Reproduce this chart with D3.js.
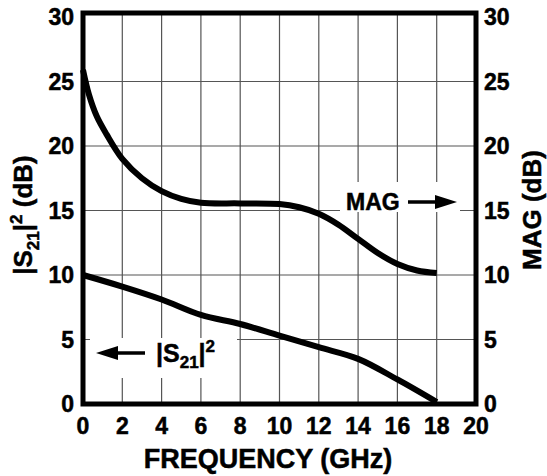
<!DOCTYPE html>
<html>
<head>
<meta charset="utf-8">
<script src="https://cdn.jsdelivr.net/npm/d3@7"></script>
<style>
  body { margin: 0; background: #fff; }
  text { font-family: "Liberation Sans", Arial, Helvetica, sans-serif; font-weight: bold; fill: #000; stroke: #000; stroke-width: 0.5px; }
</style>
</head>
<body>
<div id="chart"></div>
<script>
// data
var freqTicks = [0, 2, 4, 6, 8, 10, 12, 14, 16, 18, 20];
var dbTicks = [0, 5, 10, 15, 20, 25, 30];

var magFreq = [0, 0.3, 0.7, 1.2, 2, 3, 4, 5, 6, 8, 10, 11, 12, 13, 14, 15, 16, 17, 18];
var magDb   = [25.9, 24.0, 22.3, 20.9, 19.0, 17.5, 16.5, 15.9, 15.6, 15.55, 15.5, 15.25, 14.75, 13.9, 12.8, 11.7, 10.85, 10.35, 10.15];

var s21Freq = [0, 2, 4, 6, 8, 10, 12, 14, 16, 18];
var s21Db   = [10, 9.1, 8.1, 6.9, 6.2, 5.3, 4.4, 3.5, 1.9, 0.15];

var width = 547, height = 476;

var x = d3.scaleLinear().domain([0, 20]).range([83, 476]);
var y = d3.scaleLinear().domain([0, 30]).range([404, 17]);

var svg = d3.select('#chart').append('svg')
    .attr('width', width)
    .attr('height', height);

// grid
svg.append('g')
    .selectAll('line.v')
    .data(freqTicks.slice(1, -1))
    .enter().append('line')
    .attr('x1', function(d){ return x(d); })
    .attr('x2', function(d){ return x(d); })
    .attr('y1', 13).attr('y2', y(0))
    .attr('stroke', '#555').attr('stroke-width', 1.2);

svg.append('g')
    .selectAll('line.h')
    .data(dbTicks.slice(1, -1))
    .enter().append('line')
    .attr('x1', x(0)).attr('x2', x(20))
    .attr('y1', function(d){ return y(d); })
    .attr('y2', function(d){ return y(d); })
    .attr('stroke', '#555').attr('stroke-width', 1.2);

// white boxes behind the in-plot labels
svg.append('rect').attr('x', 90).attr('y', 338).attr('width', 147).attr('height', 40).attr('fill', '#fff');
svg.append('rect').attr('x', 340).attr('y', 182).attr('width', 120).attr('height', 30).attr('fill', '#fff');

// curves
var line = d3.line()
    .x(function(d){ return x(d[0]); })
    .y(function(d){ return y(d[1]); })
    .curve(d3.curveCatmullRom.alpha(0.5));

svg.append('path')
    .attr('d', line(d3.zip(magFreq, magDb)))
    .attr('fill', 'none').attr('stroke', '#000').attr('stroke-width', 6);

svg.append('path')
    .attr('d', line(d3.zip(s21Freq, s21Db)))
    .attr('fill', 'none').attr('stroke', '#000').attr('stroke-width', 6);

// frame
svg.append('rect')
    .attr('x', x(0)).attr('y', 13)
    .attr('width', x(20) - x(0)).attr('height', y(0) - 13)
    .attr('fill', 'none').attr('stroke', '#000').attr('stroke-width', 5);

// tick labels
svg.append('g').selectAll('text')
    .data(dbTicks).enter().append('text')
    .attr('x', 74).attr('y', function(d){ return y(d) + 8; })
    .attr('text-anchor', 'end')
    .style('font-size', '23px')
    .text(function(d){ return d; });

svg.append('g').selectAll('text')
    .data(dbTicks).enter().append('text')
    .attr('x', 484).attr('y', function(d){ return y(d) + 8; })
    .attr('text-anchor', 'start')
    .style('font-size', '23px')
    .text(function(d){ return d; });

svg.append('g').selectAll('text')
    .data(freqTicks).enter().append('text')
    .attr('x', function(d){ return x(d); }).attr('y', 434)
    .attr('text-anchor', 'middle')
    .style('font-size', '23px')
    .text(function(d){ return d; });

// axis titles
svg.append('text')
    .attr('x', 268).attr('y', 468)
    .attr('text-anchor', 'middle')
    .style('font-size', '27px')
    .text('FREQUENCY (GHz)');

var lt = svg.append('text')
    .attr('transform', 'translate(32,215) rotate(-90)')
    .attr('text-anchor', 'middle')
    .style('font-size', '26px');
lt.append('tspan').text('|S');
lt.append('tspan').attr('dy', 7).style('font-size', '17px').text('21');
lt.append('tspan').attr('dy', -7).text('|');
lt.append('tspan').attr('dy', -10).style('font-size', '17px').text('2');
lt.append('tspan').attr('dy', 10).text(' (dB)');

svg.append('text')
    .attr('transform', 'translate(541,210) rotate(-90)')
    .attr('text-anchor', 'middle')
    .style('font-size', '26px')
    .text('MAG (dB)');

// arrows
function arrow(x1, x2, yy) {
    var dir = x2 > x1 ? 1 : -1;
    svg.append('line')
        .attr('x1', x1).attr('x2', x2 - dir * 14)
        .attr('y1', yy).attr('y2', yy)
        .attr('stroke', '#000').attr('stroke-width', 3.5);
    svg.append('path')
        .attr('d', 'M' + x2 + ',' + yy + 'L' + (x2 - dir * 22) + ',' + (yy - 7) +
                   'L' + (x2 - dir * 22) + ',' + (yy + 7) + 'Z')
        .attr('fill', '#000');
}

svg.append('text')
    .attr('x', 346).attr('y', 210)
    .style('font-size', '23px')
    .text('MAG');
arrow(408, 457, 202);

arrow(145, 96, 353);
var st = svg.append('text')
    .attr('x', 156).attr('y', 362)
    .style('font-size', '25px');
st.append('tspan').text('|S');
st.append('tspan').attr('dy', 6).style('font-size', '17px').text('21');
st.append('tspan').attr('dy', -6).text('|');
st.append('tspan').attr('dy', -10).style('font-size', '17px').text('2');
</script>
</body>
</html>
